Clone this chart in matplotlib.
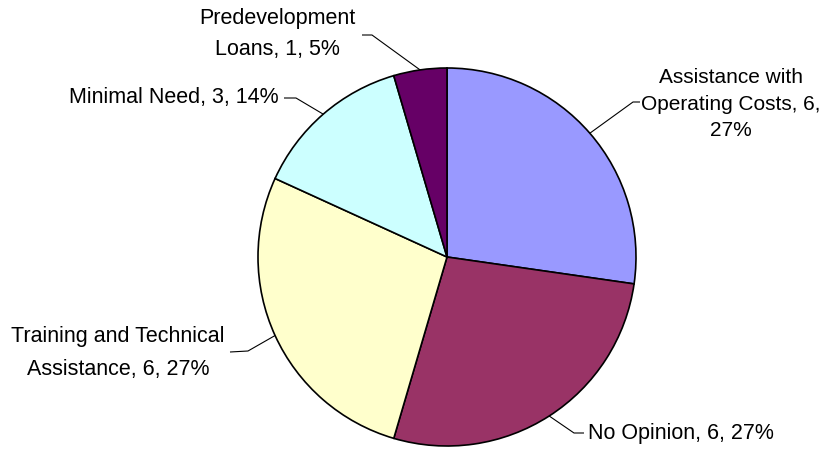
import matplotlib.pyplot as plt
import numpy as np

labels = ['Assistance with\nOperating Costs, 6,\n27%', 'No Opinion, 6, 27%',
          'Training and Technical\nAssistance, 6, 27%', 'Minimal Need, 3, 14%',
          'Predevelopment\nLoans, 1, 5%']
values = [6, 6, 6, 3, 1]
colors = ['#9999FF', '#993366', '#FFFFCC', '#CCFFFF', '#660066']

W, H = 822, 449
cx, cy, r = 447, 257, 189   # pie centre / radius in pixels (y from top)

plt.rcParams['font.family'] = ['Liberation Sans Narrow', 'Liberation Sans', 'DejaVu Sans']

fig = plt.figure(figsize=(W / 100, H / 100), dpi=100)
ax = fig.add_axes([0, 0, 1, 1])

wedges, _ = ax.pie(values, colors=colors, startangle=90, counterclock=False,
                   center=(cx, H - cy), radius=r,
                   wedgeprops=dict(edgecolor='black', linewidth=1.2))
ax.set_xlim(0, W)
ax.set_ylim(0, H)
ax.set_aspect('equal')
ax.axis('off')

# label layout: text anchor, alignment, size, line spacing, elbow points of leader line
layout = [
    dict(xy=(731, 104), ha='center', fs=15, ls=1.5, path=[(633, 102), (640, 102)]),
    dict(xy=(588, 433), ha='left', fs=15.5, ls=1.2, path=[(574, 433), (584, 433)]),
    dict(xy=(118, 353), ha='center', fs=15.5, ls=1.74, path=[(248, 351), (230, 352)]),
    dict(xy=(279, 98), ha='right', fs=15.5, ls=1.2, path=[(296, 98), (284, 98)]),
    dict(xy=(277, 34), ha='center', fs=15.5, ls=1.6, path=[(372, 35), (362, 35)]),
]

for w, lab, lo in zip(wedges, labels, layout):
    mid = np.deg2rad((w.theta1 + w.theta2) / 2)
    x0 = cx + r * np.cos(mid)
    y0 = cy - r * np.sin(mid)
    xs = [x0] + [p[0] for p in lo['path']]
    ys = [H - y0] + [H - p[1] for p in lo['path']]
    ax.plot(xs, ys, color='black', lw=0.8, solid_capstyle='butt')
    ax.text(lo['xy'][0], H - lo['xy'][1], lab, ha=lo['ha'], va='center',
            fontsize=lo['fs'], linespacing=lo['ls'], multialignment='center')

fig.savefig('out.png', dpi=100, facecolor='white')
